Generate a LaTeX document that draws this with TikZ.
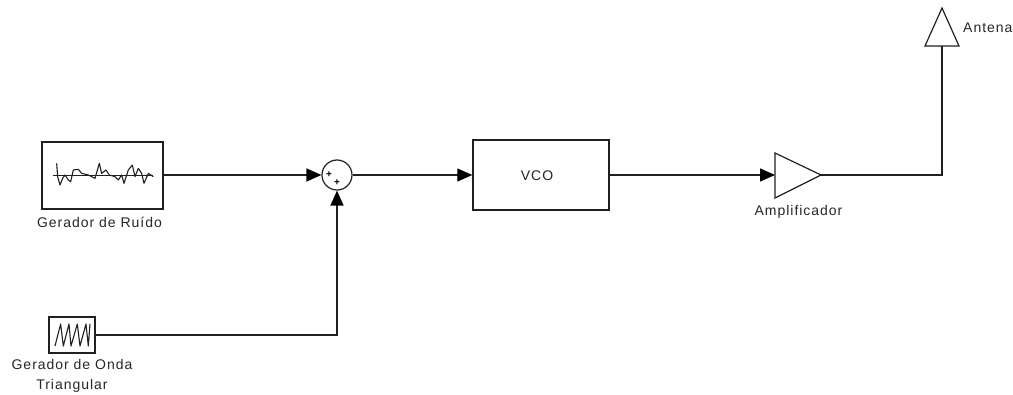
\documentclass[tikz,border=0pt]{standalone}
\usepackage{fontspec}
\setmainfont[LetterSpace=7]{Liberation Sans}
\usetikzlibrary{arrows.meta}
\definecolor{ink}{HTML}{202020}
\tikzset{
  x=1pt,y=-1pt,
  wire/.style={draw=ink,line width=1.2pt},
  flow/.style={wire,-{Triangle[length=15pt,width=13pt,color=black]}},
  blockbox/.style={draw=ink,line width=1.3pt,fill=white,inner sep=0pt},
  lbl/.style={text=black!85,font=\fontsize{14}{20}\selectfont,align=center,inner sep=0pt},
  icon/.style={draw=ink,line width=1.1pt,line join=round},
}
\begin{document}
\begin{tikzpicture}
\useasboundingbox (0,0) rectangle (1013,395);
\node[blockbox,minimum width=121pt,minimum height=67pt] (noise) at (102.5,175.5) {};
\node[blockbox,minimum width=46pt,minimum height=36pt] (tri) at (72,335) {};
\node[blockbox,minimum width=136pt,minimum height=70pt] (vco) at (541,175) {};
\node[circle,draw=ink,line width=1.2pt,minimum size=30pt,inner sep=0pt] (sum) at (337,175) {};
\coordinate (ampin) at (775,175);
\coordinate (ampout) at (821,175);
\coordinate (anttop) at (942,8);
\coordinate (antbase) at (942,46);
\coordinate (antcorner) at (942,175);
\coordinate (sumcorner) at (337,335);
\draw[draw=ink,line width=1.2pt,line join=miter] (775,153) -- (ampout) -- (775,198) -- cycle;
\draw[draw=ink,line width=1.2pt] (anttop) -- (959,46) -- (925,46) -- cycle;
\draw[flow] (noise.east |- sum.west) -- (sum.west);
\draw[flow] (sum.east) -- (vco.west);
\draw[flow] (vco.east) -- (ampin);
\draw[flow] (tri.east) -- (sumcorner) -- (sum.south);
\draw[wire] (ampout) -- (antcorner) -- (antbase);
\begin{scope}[shift={(20,130)},x=0.3333pt,y=-0.3333pt]
\draw[icon] (98,137) -- (400,137);
\draw[icon] (110,100) -- (113,140) -- (120,165) -- (128,145) -- (135,135) -- (145,150) -- (152,155) -- (160,120) -- (175,118) -- (185,130) -- (205,135) -- (225,145) -- (238,100) -- (245,130) -- (258,120) -- (268,135) -- (285,140) -- (295,150) -- (305,135) -- (312,160) -- (325,120) -- (337,105) -- (345,140) -- (355,115) -- (365,130) -- (372,160) -- (385,130) -- (400,140);
\end{scope}
\begin{scope}[shift={(0,310)},x=0.3333pt,y=-0.3333pt]
\draw[icon] (165,108) -- (182,42) -- (190,108) -- (207,42) -- (213,108) -- (232,42) -- (240,108) -- (258,42) -- (265,108) -- (270,42);
\end{scope}
\node[lbl] (noiselbl) at (99.5,222) {Gerador de Ruído};
\node[lbl] (trilbl) at (72,376) {Gerador de Onda\\Triangular};
\node[lbl] (vcolbl) at (537,176) {VCO};
\node[lbl] (amplbl) at (798.5,212) {Amplificador};
\node[lbl,anchor=west] (antlbl) at (963,28) {Antena};
\node[font=\bfseries\fontsize{10}{10}\selectfont,inner sep=0pt] (plusa) at (329,175) {+};
\node[font=\bfseries\fontsize{10}{10}\selectfont,inner sep=0pt] (plusb) at (337,183) {+};
\end{tikzpicture}
\end{document}
